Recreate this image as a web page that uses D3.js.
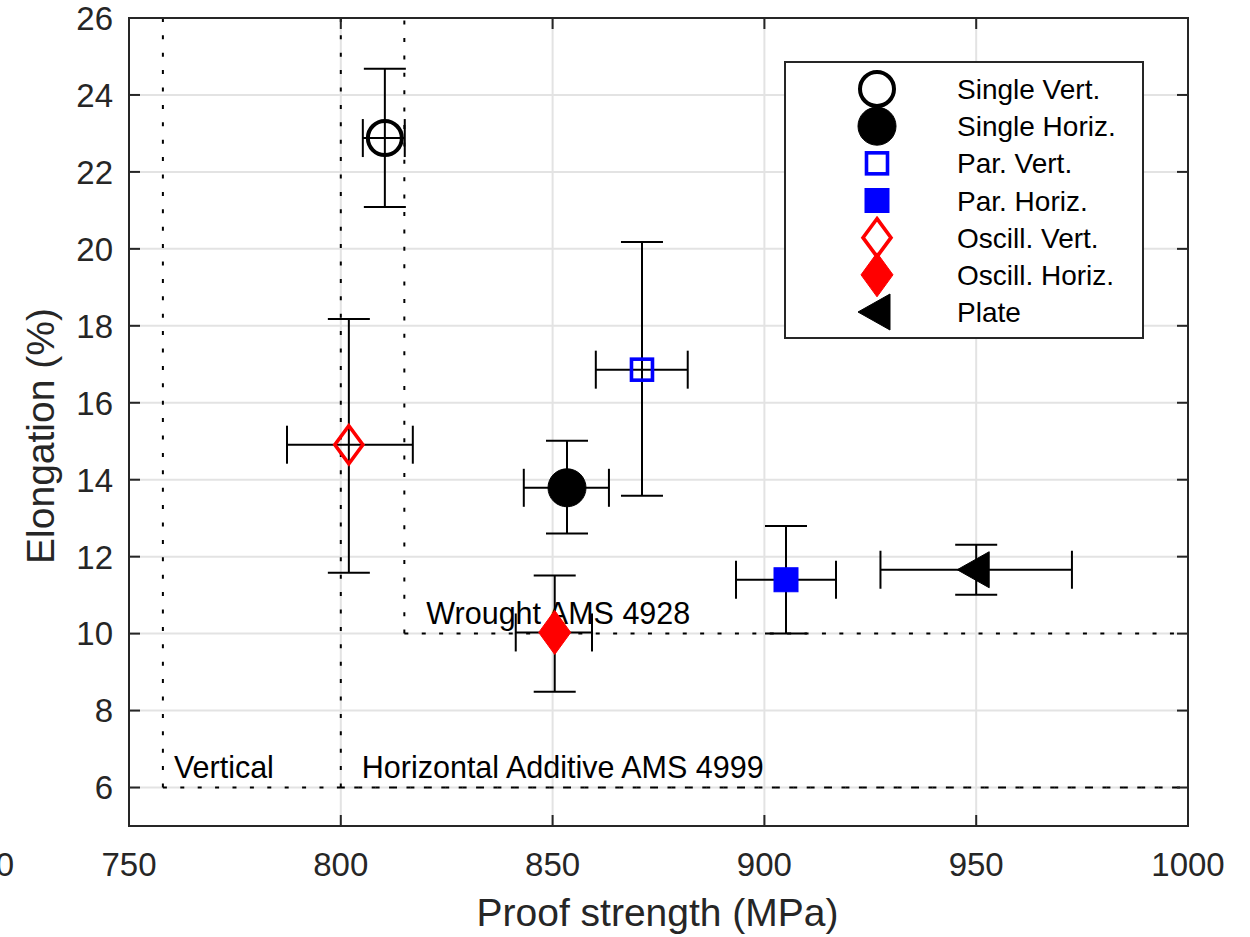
<!DOCTYPE html>
<html>
<head>
<meta charset="utf-8">
<script src="https://cdn.jsdelivr.net/npm/d3@7"></script>
<style>
  body { margin: 0; background: #fff; }
  svg { display: block; font-family: "Liberation Sans", Arial, Helvetica, sans-serif; }
</style>
</head>
<body>
<div id="chart"></div>
<script>
// series
const seriesNames = ['Single Vert.', 'Single Horiz.', 'Par. Vert.', 'Par. Horiz.', 'Oscill. Vert.', 'Oscill. Horiz.', 'Plate'];
const proofStrength = [810.4, 853.4, 871.1, 905.1, 801.9, 850.5, 950.0];
const strengthLow = [805.2, 843.2, 860.2, 893.3, 787.3, 841.3, 927.4];
const strengthHigh = [815.1, 863.3, 881.9, 916.9, 817.0, 859.3, 972.6];
const elongation = [22.88, 13.79, 16.86, 11.40, 14.91, 10.03, 11.66];
const elongLow = [21.09, 12.60, 13.58, 10.00, 11.58, 8.49, 11.01];
const elongHigh = [24.68, 15.01, 20.18, 12.80, 18.18, 11.51, 12.31];

// specification limits (minimum strength, minimum elongation)
const specNames = ['Vertical', 'Horizontal Additive AMS 4999', 'Wrought AMS 4928'];
const specStrength = [758, 800, 815];
const specElong = [6, 6, 10];

const xTicks = [750, 800, 850, 900, 950, 1000];
const yTicks = [6, 8, 10, 12, 14, 16, 18, 20, 22, 24, 26];

// marker styles per series
const markerStyle = [
  { shape: 'circle', color: '#000', filled: false },
  { shape: 'circle', color: '#000', filled: true },
  { shape: 'square', color: '#0000ff', filled: false },
  { shape: 'square', color: '#0000ff', filled: true },
  { shape: 'diamond', color: '#ff0000', filled: false },
  { shape: 'diamond', color: '#ff0000', filled: true },
  { shape: 'triangle', color: '#000', filled: true }
];

const width = 1250;
const height = 937;
const margin = { left: 129, right: 62, top: 18, bottom: 111 };
const axisColor = '#262626';

const svg = d3.select('#chart').append('svg')
  .attr('width', width)
  .attr('height', height);

const x = d3.scaleLinear().domain([750, 1000]).range([margin.left, width - margin.right]);
const y = d3.scaleLinear().domain([5, 26]).range([height - margin.bottom, margin.top]);

const plotL = x.range()[0], plotR = x.range()[1];
const plotT = y.range()[1], plotB = y.range()[0];

// grid
svg.append('g').selectAll('line.gx')
  .data(xTicks).enter().append('line')
  .attr('x1', d => x(d)).attr('x2', d => x(d))
  .attr('y1', plotT).attr('y2', plotB)
  .attr('stroke', '#e3e3e3').attr('stroke-width', 2);
svg.append('g').selectAll('line.gy')
  .data(yTicks).enter().append('line')
  .attr('x1', plotL).attr('x2', plotR)
  .attr('y1', d => y(d)).attr('y2', d => y(d))
  .attr('stroke', '#e3e3e3').attr('stroke-width', 2);

// spec limit lines
const specG = svg.append('g');
const specDx = [11, 21, 22];
specNames.forEach((name, i) => {
  specG.append('line')
    .attr('x1', x(specStrength[i])).attr('x2', x(specStrength[i]))
    .attr('y1', y(specElong[i])).attr('y2', plotT)
    .attr('stroke', '#000').attr('stroke-width', 2)
    .attr('stroke-dasharray', '4,13.4');
  specG.append('line')
    .attr('x1', x(specStrength[i])).attr('x2', plotR)
    .attr('y1', y(specElong[i])).attr('y2', y(specElong[i]))
    .attr('stroke', '#000').attr('stroke-width', 2)
    .attr('stroke-dasharray', '4,13.4');
  specG.append('text')
    .attr('x', x(specStrength[i]) + specDx[i])
    .attr('y', y(specElong[i]) - 10)
    .attr('font-size', 30.5)
    .attr('fill', '#000')
    .text(name);
});

// axes box with inward ticks
const axisG = svg.append('g');
const tickLen = 11;
xTicks.forEach(t => {
  axisG.append('line').attr('x1', x(t)).attr('x2', x(t)).attr('y1', plotB).attr('y2', plotB - tickLen)
    .attr('stroke', axisColor).attr('stroke-width', 2);
  axisG.append('line').attr('x1', x(t)).attr('x2', x(t)).attr('y1', plotT).attr('y2', plotT + tickLen)
    .attr('stroke', axisColor).attr('stroke-width', 2);
  axisG.append('text').attr('x', x(t)).attr('y', plotB + 50)
    .attr('text-anchor', 'middle').attr('font-size', 33).attr('fill', axisColor).text(t);
});
// stray label clipped at the left edge of the original figure
axisG.append('text').attr('x', x(750) - 115).attr('y', plotB + 50)
  .attr('text-anchor', 'end').attr('font-size', 33).attr('fill', axisColor).text('700');

yTicks.forEach(t => {
  axisG.append('line').attr('x1', plotL).attr('x2', plotL + tickLen).attr('y1', y(t)).attr('y2', y(t))
    .attr('stroke', axisColor).attr('stroke-width', 2);
  axisG.append('line').attr('x1', plotR).attr('x2', plotR - tickLen).attr('y1', y(t)).attr('y2', y(t))
    .attr('stroke', axisColor).attr('stroke-width', 2);
  axisG.append('text').attr('x', plotL - 16).attr('y', y(t)).attr('dy', '0.36em')
    .attr('text-anchor', 'end').attr('font-size', 33).attr('fill', axisColor).text(t);
});
axisG.append('rect')
  .attr('x', plotL).attr('y', plotT)
  .attr('width', plotR - plotL).attr('height', plotB - plotT)
  .attr('fill', 'none').attr('stroke', axisColor).attr('stroke-width', 2);

// axis titles
svg.append('text')
  .attr('x', (plotL + plotR) / 2 - 1).attr('y', plotB + 100)
  .attr('text-anchor', 'middle').attr('font-size', 39).attr('fill', axisColor)
  .text('Proof strength (MPa)');
svg.append('text')
  .attr('transform', `translate(${plotL - 75},${(plotT + plotB) / 2 + 14}) rotate(-90)`)
  .attr('text-anchor', 'middle').attr('font-size', 39).attr('fill', axisColor)
  .text('Elongation (%)');

// marker drawing
function drawMarker(g, style, cx, cy) {
  const fill = style.filled ? style.color : 'none';
  let m;
  if (style.shape === 'circle') {
    const r = style.filled ? 19 : 17;
    m = g.append('circle').attr('cx', cx).attr('cy', cy).attr('r', r);
  } else if (style.shape === 'square') {
    const s = style.filled ? 24 : 21;
    m = g.append('rect').attr('x', cx - s / 2).attr('y', cy - s / 2).attr('width', s).attr('height', s);
  } else if (style.shape === 'diamond') {
    const w = style.filled ? 16 : 14, h = style.filled ? 22 : 19;
    m = g.append('path').attr('d', `M${cx},${cy - h}L${cx + w},${cy}L${cx},${cy + h}L${cx - w},${cy}Z`);
  } else {
    m = g.append('path').attr('d', `M${cx - 19},${cy}L${cx + 13},${cy - 18}L${cx + 13},${cy + 18}Z`);
  }
  m.attr('fill', fill)
    .attr('stroke', style.color)
    .attr('stroke-width', style.filled ? 1 : (style.shape === 'circle' ? 4 : 3.6))
    .attr('stroke-linejoin', 'miter');
}

// error bars + markers
const dataG = svg.append('g');
const cap = 21;
seriesNames.forEach((name, i) => {
  const cx = x(proofStrength[i]), cy = y(elongation[i]);
  const eb = dataG.append('g').attr('stroke', '#000').attr('stroke-width', 2);
  // vertical
  eb.append('line').attr('x1', cx).attr('x2', cx).attr('y1', y(elongLow[i])).attr('y2', y(elongHigh[i]));
  eb.append('line').attr('x1', cx - cap).attr('x2', cx + cap).attr('y1', y(elongLow[i])).attr('y2', y(elongLow[i]));
  eb.append('line').attr('x1', cx - cap).attr('x2', cx + cap).attr('y1', y(elongHigh[i])).attr('y2', y(elongHigh[i]));
  // horizontal
  eb.append('line').attr('x1', x(strengthLow[i])).attr('x2', x(strengthHigh[i])).attr('y1', cy).attr('y2', cy);
  eb.append('line').attr('x1', x(strengthLow[i])).attr('x2', x(strengthLow[i])).attr('y1', cy - cap + 2).attr('y2', cy + cap - 2);
  eb.append('line').attr('x1', x(strengthHigh[i])).attr('x2', x(strengthHigh[i])).attr('y1', cy - cap + 2).attr('y2', cy + cap - 2);
  drawMarker(dataG, markerStyle[i], cx, cy);
});

// legend
const legX = 785, legY = 62, legW = 358, legH = 276;
const legG = svg.append('g');
legG.append('rect')
  .attr('x', legX).attr('y', legY).attr('width', legW).attr('height', legH)
  .attr('fill', '#fff').attr('stroke', axisColor).attr('stroke-width', 2);
const legRow = d3.scaleLinear().domain([0, seriesNames.length - 1]).range([legY + 27, legY + 250]);
seriesNames.forEach((name, i) => {
  drawMarker(legG, markerStyle[i], legX + 92, legRow(i));
  legG.append('text')
    .attr('x', legX + 172).attr('y', legRow(i)).attr('dy', '0.36em')
    .attr('font-size', 28).attr('fill', '#000')
    .text(name);
});
</script>
</body>
</html>
